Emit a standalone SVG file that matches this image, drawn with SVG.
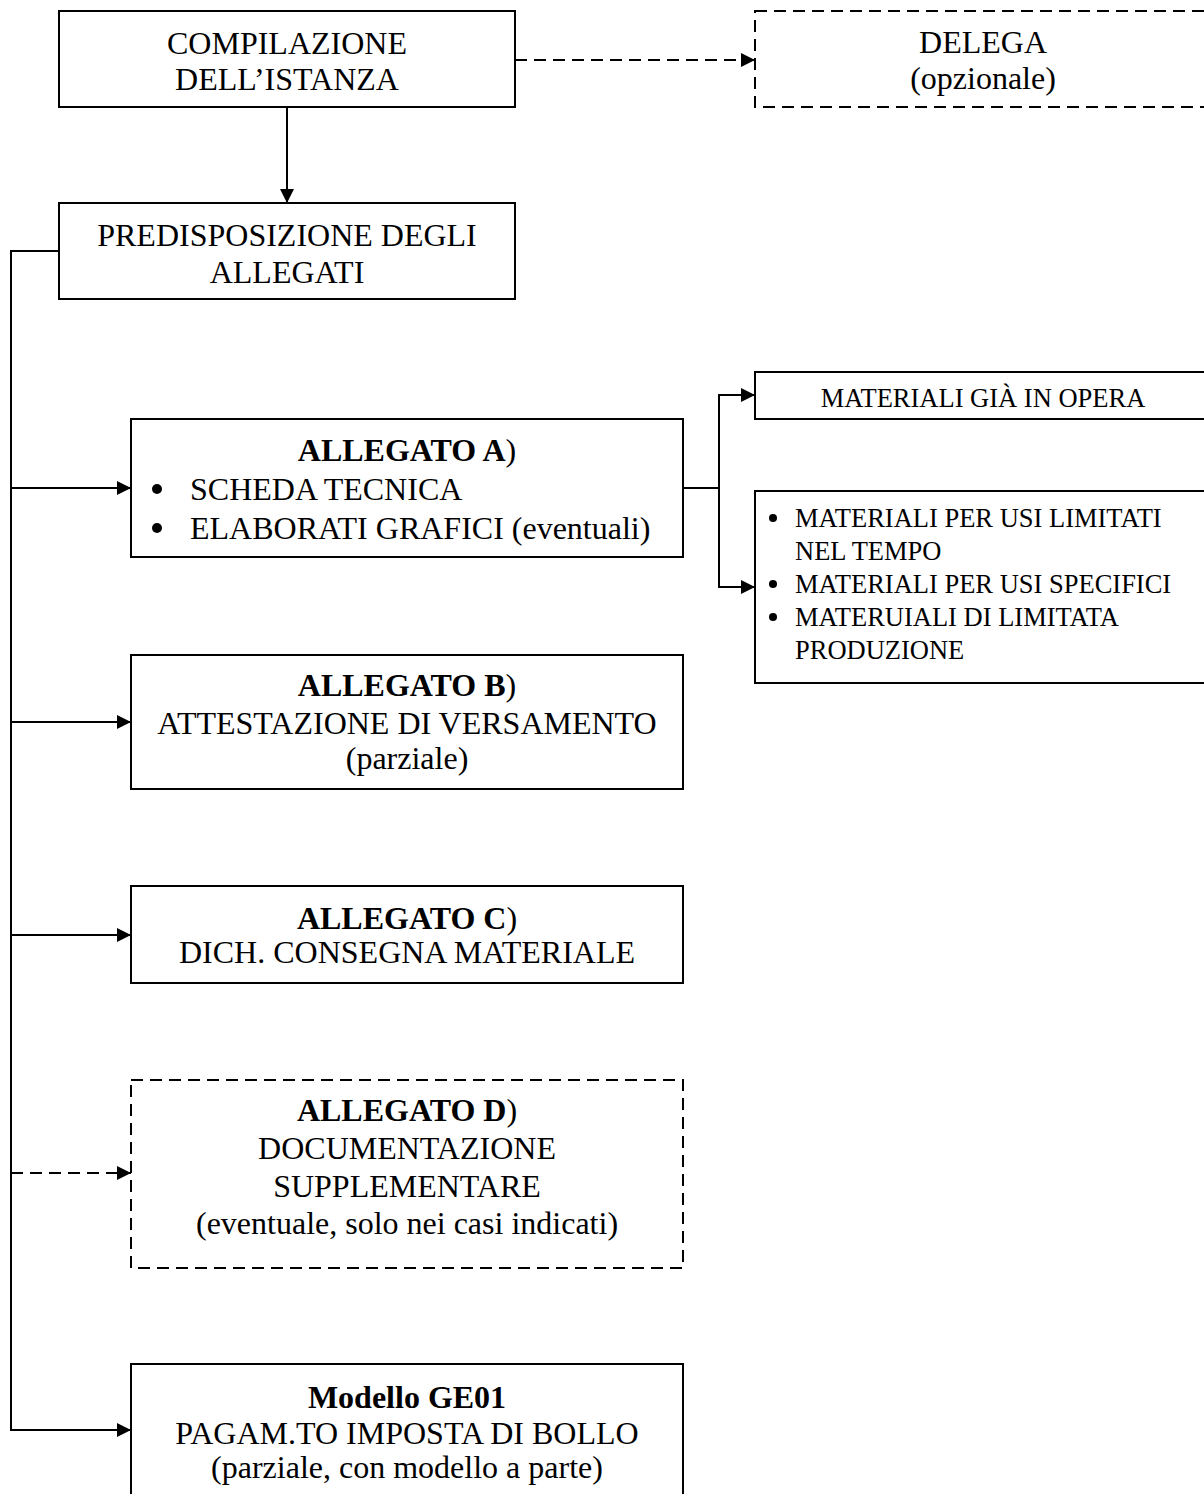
<svg xmlns="http://www.w3.org/2000/svg" width="1204" height="1494" viewBox="0 0 1204 1494">
<style>
  .box { fill: #fff; stroke: #000; stroke-width: 2; }
  .dash { stroke-dasharray: 12 7; }
  .t { font-family: "Liberation Serif", "Times New Roman", serif; font-size: 32px; fill: #000; text-anchor: middle; }
  .b { font-weight: bold; }
  .s { font-family: "Liberation Serif", "Times New Roman", serif; font-size: 26.5px; fill: #000; }
  .tl { font-family: "Liberation Serif", "Times New Roman", serif; font-size: 32px; fill: #000; }
  .c { fill: none; stroke: #000; stroke-width: 2; }
</style>
<defs>
  <marker id="arr" markerUnits="userSpaceOnUse" markerWidth="14" markerHeight="14" refX="14" refY="7" orient="auto">
    <path d="M0,0 L14,7 L0,14 Z" fill="#000"/>
  </marker>
</defs>
<rect width="1204" height="1494" fill="#fff"/>

<g id="connectors">
  <path class="c" d="M287,107 V203" marker-end="url(#arr)"/>
  <path class="c dash" d="M515,60 H755" marker-end="url(#arr)"/>
  <path class="c" d="M59,251 H11 V1430 H131" marker-end="url(#arr)"/>
  <path class="c" d="M11,488 H131" marker-end="url(#arr)"/>
  <path class="c" d="M11,722 H131" marker-end="url(#arr)"/>
  <path class="c" d="M11,935 H131" marker-end="url(#arr)"/>
  <path class="c dash" d="M11,1173 H131" marker-end="url(#arr)"/>
  <path class="c" d="M683,488 H719"/>
  <path class="c" d="M755,395 H719 V587 H755" />
  <path class="c" d="M719,395 H755" marker-end="url(#arr)"/>
  <path class="c" d="M719,587 H755" marker-end="url(#arr)"/>
</g>

<g id="compilazione">
  <rect class="box" x="59" y="11" width="456" height="96"/>
  <text class="t" x="287" y="54">COMPILAZIONE</text>
  <text class="t" x="287" y="90">DELL’ISTANZA</text>
</g>

<g id="delega">
  <rect class="box dash" x="755" y="11" width="456" height="96"/>
  <text class="t" x="983" y="53">DELEGA</text>
  <text class="t" x="983" y="89">(opzionale)</text>
</g>

<g id="predisposizione">
  <rect class="box" x="59" y="203" width="456" height="96"/>
  <text class="t" x="287" y="246">PREDISPOSIZIONE DEGLI</text>
  <text class="t" x="287" y="283">ALLEGATI</text>
</g>

<g id="allegato-a">
  <rect class="box" x="131" y="419" width="552" height="138"/>
  <text class="t" x="407" y="461"><tspan class="b">ALLEGATO A</tspan>)</text>
  <circle cx="157" cy="489" r="5"/>
  <text class="tl" x="190" y="500">SCHEDA TECNICA</text>
  <circle cx="157" cy="528" r="5"/>
  <text class="tl" x="190" y="539">ELABORATI GRAFICI (eventuali)</text>
</g>

<g id="materiali-opera">
  <rect class="box" x="755" y="372" width="456" height="47"/>
  <text class="s" x="983" y="407" text-anchor="middle">MATERIALI GIÀ IN OPERA</text>
</g>

<g id="materiali-lista">
  <rect class="box" x="755" y="491" width="456" height="192"/>
  <circle cx="773" cy="518" r="4"/>
  <text class="s" x="795" y="527">MATERIALI PER USI LIMITATI</text>
  <text class="s" x="795" y="560">NEL TEMPO</text>
  <circle cx="773" cy="584" r="4"/>
  <text class="s" x="795" y="593">MATERIALI PER USI SPECIFICI</text>
  <circle cx="773" cy="617" r="4"/>
  <text class="s" x="795" y="626">MATERUIALI DI LIMITATA</text>
  <text class="s" x="795" y="659">PRODUZIONE</text>
</g>

<g id="allegato-b">
  <rect class="box" x="131" y="655" width="552" height="134"/>
  <text class="t" x="407" y="696"><tspan class="b">ALLEGATO B</tspan>)</text>
  <text class="t" x="407" y="734">ATTESTAZIONE DI VERSAMENTO</text>
  <text class="t" x="407" y="769">(parziale)</text>
</g>

<g id="allegato-c">
  <rect class="box" x="131" y="886" width="552" height="97"/>
  <text class="t" x="407" y="929"><tspan class="b">ALLEGATO C</tspan>)</text>
  <text class="t" x="407" y="963">DICH. CONSEGNA MATERIALE</text>
</g>

<g id="allegato-d">
  <rect class="box dash" x="131" y="1080" width="552" height="188"/>
  <text class="t" x="407" y="1121"><tspan class="b">ALLEGATO D</tspan>)</text>
  <text class="t" x="407" y="1159">DOCUMENTAZIONE</text>
  <text class="t" x="407" y="1197">SUPPLEMENTARE</text>
  <text class="t" x="407" y="1234">(eventuale, solo nei casi indicati)</text>
</g>

<g id="modello-ge01">
  <rect class="box" x="131" y="1364" width="552" height="140"/>
  <text class="t b" x="407" y="1408">Modello GE01</text>
  <text class="t" x="407" y="1444">PAGAM.TO IMPOSTA DI BOLLO</text>
  <text class="t" x="407" y="1478">(parziale, con modello a parte)</text>
</g>
</svg>
